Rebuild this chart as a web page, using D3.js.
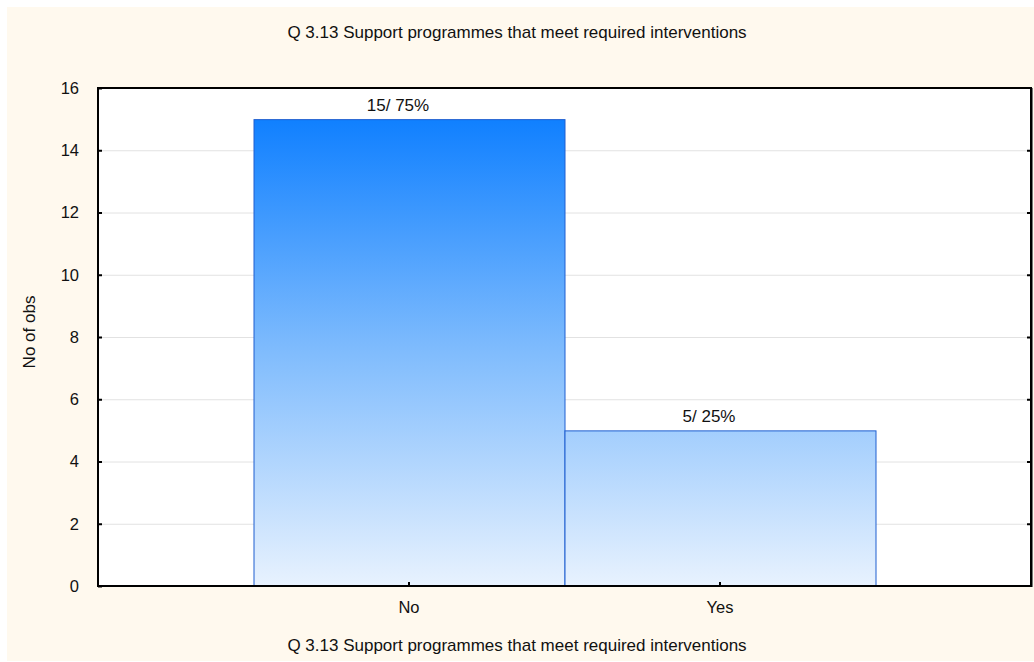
<!DOCTYPE html>
<html><head><meta charset="utf-8">
<script src="https://cdn.jsdelivr.net/npm/d3@7"></script>
<style>body{margin:0;background:#fff}svg{display:block}text{font-family:"Liberation Sans",Arial,sans-serif;fill:#111}</style>
</head><body><svg id="c" width="1034" height="662"></svg>
<script>
const categories = ["No", "Yes"];
const counts = [15, 5];
const labels = ["15/ 75%", "5/ 25%"];
const yTicks = [0, 2, 4, 6, 8, 10, 12, 14, 16];
const title = "Q 3.13 Support programmes that meet required interventions";
const xTitle = "Q 3.13 Support programmes that meet required interventions";
const yTitle = "No of obs";

const FF = '"Liberation Sans",Arial,sans-serif';
const svg = d3.select("#c");
const L = 98, R = 1031, T = 88, B = 586;
svg.append("rect").attr("x", 7).attr("y", 7).attr("width", 1027).attr("height", 654).attr("fill", "#FFF9EE");
svg.append("rect").attr("x", L).attr("y", T).attr("width", R - L).attr("height", B - T).attr("fill", "#fff");

const x = d3.scaleBand().domain(categories).range([L, R]).paddingInner(0).paddingOuter(0.5);
const y = d3.scaleLinear().domain([0, 16]).range([B, T]);

const defs = svg.append("defs");
const g = defs.append("linearGradient").attr("id", "bg").attr("gradientUnits", "userSpaceOnUse")
  .attr("x1", 0).attr("x2", 0).attr("y1", y(15)).attr("y2", y(0));
g.append("stop").attr("offset", 0).attr("stop-color", "#1080FF");
g.append("stop").attr("offset", 0.5).attr("stop-color", "#80BCFD");
g.append("stop").attr("offset", 1).attr("stop-color", "#E8F2FE");

// gridlines
svg.append("g").selectAll("line").data(yTicks.filter(d => d > 0 && d < 16)).join("line")
  .attr("x1", L).attr("x2", R).attr("y1", d => y(d) + 0.5).attr("y2", d => y(d) + 0.5)
  .attr("stroke", "#E2E2E2").attr("stroke-width", 1);

// bars
svg.append("g").selectAll("rect").data(categories).join("rect")
  .attr("x", d => x(d) + 0.5).attr("width", x.bandwidth())
  .attr("y", (d, i) => y(counts[i]) + 0.5).attr("height", (d, i) => y(0) - y(counts[i]))
  .attr("fill", "url(#bg)").attr("stroke", "#1F5FD0").attr("stroke-width", 1);

svg.append("g").selectAll("text").data(categories).join("text")
  .attr("x", d => x(d) + x.bandwidth() / 2 - 11).attr("y", (d, i) => y(counts[i]) - 8)
  .attr("text-anchor", "middle").attr("font-size", 17).text((d, i) => labels[i]);

// frame
svg.append("rect").attr("x", L).attr("y", T).attr("width", R - L).attr("height", B - T)
  .attr("fill", "none").attr("stroke", "#000").attr("stroke-width", 2);
svg.append("line").attr("x1", R + 1.5).attr("x2", R + 1.5).attr("y1", T).attr("y2", B + 1)
  .attr("stroke", "#777").attr("stroke-width", 1);

// axes
const yAxis = d3.axisLeft(y).tickValues(yTicks).tickSize(-4).tickPadding(19).tickFormat(d3.format("d"));
const ya = svg.append("g").attr("transform", `translate(${L},0)`).call(yAxis);
ya.select(".domain").remove();
ya.selectAll(".tick line").attr("stroke", "#000").attr("stroke-width", 2);
ya.selectAll("text").attr("font-size", 16.5).attr("font-family", FF).attr("fill", "#111");

const yAxisR = d3.axisRight(y).tickValues(yTicks.filter(d => d > 0 && d < 16)).tickSize(-4).tickFormat("");
const yr = svg.append("g").attr("transform", `translate(${R},0)`).call(yAxisR);
yr.select(".domain").remove();
yr.selectAll(".tick line").attr("stroke", "#000").attr("stroke-width", 2);

const xAxis = d3.axisBottom(x).tickSize(-4).tickPadding(15);
const xa = svg.append("g").attr("transform", `translate(0,${B})`).call(xAxis);
xa.select(".domain").remove();
xa.selectAll(".tick line").attr("stroke", "#000").attr("stroke-width", 2);
xa.selectAll("text").attr("font-size", 16.5).attr("font-family", FF).attr("fill", "#111");

// titles
svg.append("text").attr("x", 517).attr("y", 38).attr("text-anchor", "middle").attr("font-size", 17).text(title);
svg.append("text").attr("x", 517).attr("y", 651).attr("text-anchor", "middle").attr("font-size", 17).text(xTitle);
svg.append("text").attr("transform", `translate(35,332) rotate(-90)`).attr("text-anchor", "middle").attr("font-size", 17).text(yTitle);
</script></body></html>
